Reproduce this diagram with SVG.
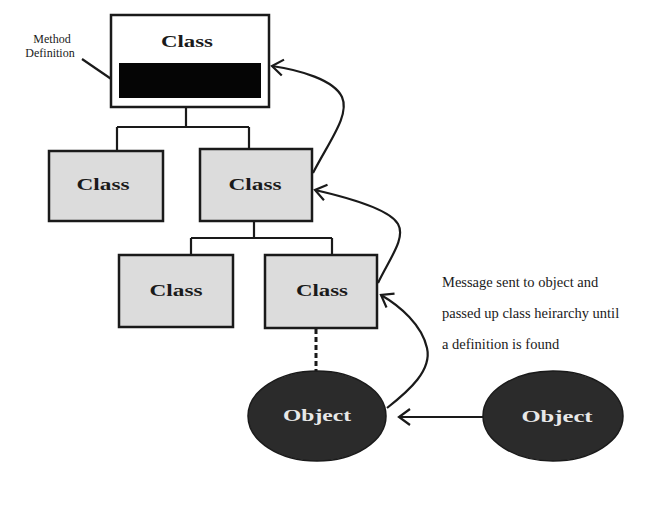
<svg xmlns="http://www.w3.org/2000/svg" width="654" height="514" viewBox="0 0 654 514">
<defs>
<style>
.box{fill:#dcdcdc;stroke:#1a1a1a;stroke-width:2.5}
.cls{font-family:"Liberation Serif",serif;font-weight:bold;font-size:17px;fill:#1a1a1a;text-anchor:middle}
.obj{fill:#2b2b2b;stroke:#1a1a1a;stroke-width:1.5}
.objt{font-family:"Liberation Serif",serif;font-weight:bold;font-size:17px;fill:#e8e8e8;text-anchor:middle}
.ln{fill:none;stroke:#1a1a1a;stroke-width:2.2}
.note{font-family:"Liberation Serif",serif;font-size:14.5px;fill:#1a1a1a}
.lbl{font-family:"Liberation Serif",serif;font-size:12px;fill:#1a1a1a;text-anchor:middle}
</style>
<marker id="ah" markerUnits="userSpaceOnUse" markerWidth="24" markerHeight="24" viewBox="-14 -12 16 24" refX="0" refY="0" orient="auto">
<path d="M-11,-8 L0,0 L-11,8" fill="none" stroke="#1a1a1a" stroke-width="2.2"/>
</marker>
</defs>
<rect width="654" height="514" fill="#ffffff"/>

<g id="connectors">
<path class="ln" d="M186,108 V127 M117,127 H249 M117,127 V150 M249,127 V149"/>
<path class="ln" d="M254,222 V238 M191,238 H332 M191,238 V255 M332,238 V255"/>
<path d="M316,329 V371" fill="none" stroke="#1a1a1a" stroke-width="3" stroke-dasharray="5,3"/>
<path class="ln" d="M82,59 L120,85"/>
<path class="ln" d="M313,173 C330,140 350,115 342,97 C334,80 300,70 272,66" marker-end="url(#ah)"/>
<path class="ln" d="M378,283 C390,258 406,238 398,224 C390,210 350,198 315,190" marker-end="url(#ah)"/>
<path class="ln" d="M387,408 C410,390 432,370 427,348 C422,325 400,306 381,295" marker-end="url(#ah)"/>
<path class="ln" d="M483,417 L399,417" marker-end="url(#ah)"/>
</g>

<g id="class-top">
<rect x="111" y="15" width="158" height="92" fill="#ffffff" stroke="#1a1a1a" stroke-width="2.5"/>
<text class="cls" x="187" y="47" textLength="52" lengthAdjust="spacingAndGlyphs">Class</text>
<rect x="119" y="63" width="142" height="35" fill="#050505"/>
</g>

<g id="method-label">
<text class="lbl" x="52" y="43">Method</text>
<text class="lbl" x="50" y="57">Definition</text>
</g>

<g id="class-2a">
<rect class="box" x="49" y="151" width="114" height="70"/>
<text class="cls" x="103" y="190" textLength="53" lengthAdjust="spacingAndGlyphs">Class</text>
</g>
<g id="class-2b">
<rect class="box" x="200" y="149" width="112" height="72"/>
<text class="cls" x="255" y="190" textLength="53" lengthAdjust="spacingAndGlyphs">Class</text>
</g>
<g id="class-3a">
<rect class="box" x="119" y="255" width="114" height="72"/>
<text class="cls" x="176" y="296" textLength="53" lengthAdjust="spacingAndGlyphs">Class</text>
</g>
<g id="class-3b">
<rect class="box" x="265" y="255" width="112" height="73"/>
<text class="cls" x="322" y="296" textLength="52" lengthAdjust="spacingAndGlyphs">Class</text>
</g>

<g id="object-1">
<ellipse class="obj" cx="317" cy="416" rx="69" ry="45"/>
<text class="objt" x="317" y="421" textLength="68" lengthAdjust="spacingAndGlyphs">Object</text>
</g>
<g id="object-2">
<ellipse class="obj" cx="553" cy="416" rx="70" ry="45"/>
<text class="objt" x="557" y="422" textLength="71" lengthAdjust="spacingAndGlyphs">Object</text>
</g>

<g id="note">
<text class="note" x="442" y="287">Message sent to object and</text>
<text class="note" x="442" y="318">passed up class heirarchy until</text>
<text class="note" x="442" y="349">a definition is found</text>
</g>
</svg>
